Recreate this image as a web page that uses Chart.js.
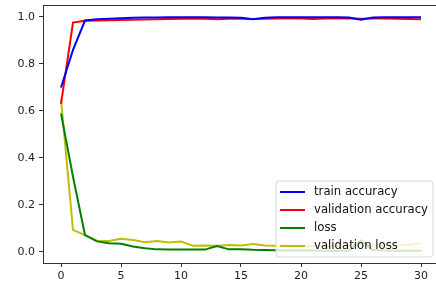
<!DOCTYPE html>
<html>
<head>
<meta charset="utf-8">
<script src="https://cdn.jsdelivr.net/npm/chart.js@4/dist/chart.umd.min.js"></script>
<style>
  html, body { margin: 0; padding: 0; background: #fff; }
  canvas { display: block; }
</style>
</head>
<body>
<canvas id="historyChart" width="436" height="288"></canvas>
<script>
// ========================================
// data
// ========================================
const epochs = [0,1,2,3,4,5,6,7,8,9,10,11,12,13,14,15,16,17,18,19,20,21,22,23,24,25,26,27,28,29,30];

const trainAccuracy = [0.70, 0.86, 0.985, 0.990, 0.993, 0.995, 0.997, 0.998, 0.998, 0.999, 0.999, 0.999, 0.999, 0.998, 0.998, 0.997, 0.990, 0.997, 0.999, 0.999, 0.999, 0.999, 0.999, 0.999, 0.998, 0.988, 0.998, 0.999, 0.999, 0.999, 0.999];
const valAccuracy   = [0.63, 0.976, 0.984, 0.985, 0.986, 0.987, 0.988, 0.989, 0.990, 0.991, 0.992, 0.993, 0.993, 0.990, 0.993, 0.993, 0.991, 0.993, 0.994, 0.994, 0.994, 0.991, 0.994, 0.994, 0.994, 0.993, 0.994, 0.994, 0.993, 0.991, 0.990];
const trainLoss     = [0.59, 0.32, 0.072, 0.045, 0.037, 0.035, 0.023, 0.016, 0.011, 0.010, 0.010, 0.010, 0.010, 0.025, 0.011, 0.012, 0.009, 0.008, 0.007, 0.006, 0.006, 0.006, 0.005, 0.005, 0.006, 0.050, 0.008, 0.006, 0.005, 0.005, 0.005];
const valLoss       = [0.65, 0.094, 0.072, 0.048, 0.047, 0.056, 0.051, 0.041, 0.047, 0.040, 0.044, 0.026, 0.027, 0.026, 0.030, 0.027, 0.034, 0.027, 0.026, 0.025, 0.025, 0.026, 0.025, 0.026, 0.027, 0.028, 0.027, 0.026, 0.027, 0.030, 0.037];

const seriesNames  = ['train accuracy', 'validation accuracy', 'loss', 'validation loss'];
const seriesColors = ['#0000ff', '#ff0000', '#008000', '#bfbf00'];

const xTicks = [0, 5, 10, 15, 20, 25, 30];
const yTicks = [0, 0.2, 0.4, 0.6, 0.8, 1.0];

const FONT = 'DejaVu Sans';

// ========================================
// helpers
// ========================================
function toPoints(values) {
    return epochs.map((e, i) => ({ x: e, y: values[i] }));
}

// top spine + matplotlib style legend box (lower right)
const mplDecor = {
    id: 'mplDecor',
    afterDraw(chart) {
        const ctx = chart.ctx;
        const area = chart.chartArea;

        // top spine
        ctx.save();
        ctx.strokeStyle = '#333';
        ctx.lineWidth = 1;
        ctx.beginPath();
        ctx.moveTo(area.left, Math.round(area.top) + 0.5);
        ctx.lineTo(area.right, Math.round(area.top) + 0.5);
        ctx.stroke();
        ctx.restore();

        // legend
        const bx = 276, by = 181, bw = 157, bh = 76, r = 3;
        ctx.save();
        ctx.beginPath();
        ctx.moveTo(bx + r, by);
        ctx.lineTo(bx + bw - r, by);
        ctx.quadraticCurveTo(bx + bw, by, bx + bw, by + r);
        ctx.lineTo(bx + bw, by + bh - r);
        ctx.quadraticCurveTo(bx + bw, by + bh, bx + bw - r, by + bh);
        ctx.lineTo(bx + r, by + bh);
        ctx.quadraticCurveTo(bx, by + bh, bx, by + bh - r);
        ctx.lineTo(bx, by + r);
        ctx.quadraticCurveTo(bx, by, bx + r, by);
        ctx.closePath();
        ctx.fillStyle = 'rgba(255,255,255,0.8)';
        ctx.fill();
        ctx.strokeStyle = '#d6d6d6';
        ctx.lineWidth = 1;
        ctx.stroke();

        ctx.font = '11.7px "' + FONT + '"';
        ctx.textBaseline = 'middle';
        ctx.textAlign = 'left';
        seriesNames.forEach((name, i) => {
            const y = by + 11 + i * 18;
            ctx.strokeStyle = seriesColors[i];
            ctx.lineWidth = 2;
            ctx.beginPath();
            ctx.moveTo(bx + 4, y);
            ctx.lineTo(bx + 29, y);
            ctx.stroke();
            ctx.fillStyle = '#111';
            ctx.fillText(name, bx + 38, y);
        });
        ctx.restore();
    }
};

// ========================================
// chart
// ========================================
const allSeries = [trainAccuracy, valAccuracy, trainLoss, valLoss];

new Chart(document.getElementById('historyChart').getContext('2d'), {
    type: 'line',
    data: {
        datasets: allSeries.map((values, i) => ({
            label: seriesNames[i],
            data: toPoints(values),
            borderColor: seriesColors[i],
            backgroundColor: seriesColors[i],
            borderWidth: 2,
            pointRadius: 0,
            tension: 0,
            fill: false
        }))
    },
    options: {
        responsive: false,
        animation: false,
        devicePixelRatio: 1,
        layout: { padding: { top: 5, right: 0, bottom: 0, left: 0 } },
        plugins: {
            legend: { display: false },
            tooltip: { enabled: false }
        },
        scales: {
            x: {
                type: 'linear',
                min: -1.5,
                max: 31.25,
                afterBuildTicks: scale => { scale.ticks = xTicks.map(v => ({ value: v })); },
                afterFit: scale => {
                    scale.height = 25;
                    scale.paddingLeft = 0;
                    scale.paddingRight = 0;
                },
                grid: { drawOnChartArea: false, drawTicks: true, tickLength: 4, tickColor: '#333' },
                border: { display: true, color: '#333', width: 1 },
                ticks: {
                    color: '#222',
                    padding: 3,
                    maxRotation: 0,
                    font: { family: FONT, size: 11 },
                    callback: v => String(v)
                }
            },
            y: {
                min: -0.047,
                max: 1.051,
                afterBuildTicks: scale => { scale.ticks = yTicks.map(v => ({ value: v })); },
                afterFit: scale => {
                    scale.width = 43;
                    scale.paddingTop = 0;
                    scale.paddingBottom = 0;
                },
                grid: { drawOnChartArea: false, drawTicks: true, tickLength: 4, tickColor: '#333' },
                border: { display: true, color: '#333', width: 1 },
                ticks: {
                    color: '#222',
                    padding: 4,
                    font: { family: FONT, size: 11 },
                    callback: v => v.toFixed(1)
                }
            }
        }
    },
    plugins: [mplDecor]
});
</script>
</body>
</html>
